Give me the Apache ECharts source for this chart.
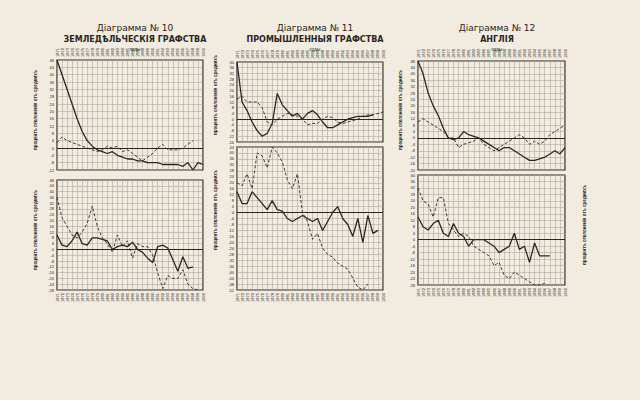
<!DOCTYPE html>
<html><head><meta charset="utf-8">
<script src="https://cdn.jsdelivr.net/npm/echarts@6/dist/echarts.min.js"></script>
<style>body{margin:0;background:#f1ebe0}#c{width:640px;height:400px}</style>
</head><body><div id="c"></div>
<script>
const years = [];
for (let y = 1871; y <= 1900; y++) years.push(String(y));

const titles = ['Діаграмма № 10', 'Діаграмма № 11', 'Діаграмма № 12'];
const subtitles = ['ЗЕМЛЕДѢЛЬЧЕСКІЯ ГРАФСТВА', 'ПРОМЫШЛЕННЫЯ ГРАФСТВА', 'АНГЛІЯ'];

const d10TopSolid = [48,40,32,24,16,9,4,1,-1,-2,-3,-2,-4,-5,-6,-6,-7,-7,-8,-8,-8,-9,-9,-9,-9,-10,-8,-12,-8,-9];
const d10TopDash = [3,6,4,3,2,1,0,-1,-2,-1,1,0,1,-2,-1,-3,-5,-7,-5,-3,0,2,-1,-1,-1,0,2,4,null,null];
const d10BotSolid = [10,3,2,6,12,4,3,8,8,7,6,0,2,3,2,5,0,-2,-6,-9,2,3,1,-7,-15,-5,-13,-12,null,null];
const d10BotDash = [36,22,16,10,8,12,18,30,16,8,4,-2,10,2,6,-6,4,2,2,-4,-16,-27,-18,-20,-20,-14,-24,-27,-28,null];

const d11TopSolid = [40,12,6,-2,-8,-12,-10,-3,18,10,6,2,4,0,4,6,3,-2,-6,-6,-4,-2,0,1,2,2,2,3,null,null];
const d11TopDash = [14,16,12,12,12,8,-2,-4,0,2,4,3,2,0,-4,-3,-3,0,2,1,-2,-3,-2,-1,0,2,3,3,4,5];
const d11BotSolid = [14,6,6,14,10,6,2,8,2,1,-4,-6,-4,-2,-4,-6,-4,-12,-6,0,4,-4,-8,-16,-4,-20,-2,-14,-12,null];
const d11BotDash = [20,18,26,16,40,38,30,44,40,34,22,16,26,0,-6,-18,-14,-24,-28,-30,-34,-36,-38,-44,-50,-52,-48,null,null,null];

const d12TopSolid = [48,40,28,20,14,6,0,-1,0,4,2,1,0,-2,-4,-6,-8,-6,-6,-8,-10,-12,-14,-14,-13,-12,-10,-8,-10,-6];
const d12TopDash = [10,12,10,8,6,4,0,0,-6,-4,-3,-2,0,-4,-6,-8,-6,-4,-2,0,2,0,-4,-2,-4,-2,2,4,6,8];
const d12BotSolid = [14,8,6,10,12,4,2,10,4,2,-4,0,0,0,-2,-4,-8,-6,-4,4,-6,-4,-14,-2,-10,-10,-10,null,null,null];
const d12BotDash = [32,24,22,14,26,26,10,6,2,4,2,-4,-6,-8,-10,-16,-14,-22,-24,-20,-22,-24,-26,-28,-28,-27,null,null,null,null];

const panels = [
  {left:57, right:437, top:60, bottom:230, min:-12, max:48, s:d10TopSolid, d:d10TopDash, pos:'top'},
  {left:57, right:437, top:180, bottom:110, min:-28, max:48, s:d10BotSolid, d:d10BotDash, pos:'bottom'},
  {left:237, right:257, top:62, bottom:258, min:-16, max:40, s:d11TopSolid, d:d11TopDash, pos:'top'},
  {left:237, right:257, top:147, bottom:110, min:-52, max:44, s:d11BotSolid, d:d11BotDash, pos:'bottom'},
  {left:418, right:75, top:61, bottom:230, min:-20, max:48, s:d12TopSolid, d:d12TopDash, pos:'top'},
  {left:418, right:75, top:175, bottom:115, min:-28, max:40, s:d12BotSolid, d:d12BotDash, pos:'bottom'}
];

const ink = '#2a2622';
const grid = [], xAxis = [], yAxis = [], series = [];
panels.forEach((p, i) => {
  grid.push({left:p.left, right:p.right, top:p.top, bottom:p.bottom, show:true,
    borderColor:ink, borderWidth:1.2});
  xAxis.push({type:'category', gridIndex:i, data:years, boundaryGap:false, position:p.pos,
    axisLine:{show:false}, axisTick:{show:false},
    axisLabel:{fontSize:4, rotate:90, color:ink, interval:0, margin:3},
    splitLine:{show:true, lineStyle:{color:'#a39d94', width:0.5}}});
  yAxis.push({type:'value', gridIndex:i, min:p.min, max:p.max, interval:4,
    axisLine:{show:false}, axisTick:{show:false},
    axisLabel:{fontSize:4, color:ink, margin:3},
    splitLine:{show:true, lineStyle:{color:'#a39d94', width:0.5}}});
  const lineBase = {type:'line', xAxisIndex:i, yAxisIndex:i, symbol:'none', silent:true};
  series.push(Object.assign({}, lineBase, {data:p.s, lineStyle:{color:ink, width:1.3},
    markLine:{silent:true, symbol:'none', label:{show:false},
      lineStyle:{color:ink, type:'solid', width:1}, data:[{yAxis:0}]}}));
  series.push(Object.assign({}, lineBase, {data:p.d, lineStyle:{color:ink, width:0.9, type:[3,2]}}));
});

const centers = [130, 310, 492];
const title = [];
centers.forEach((c, i) => {
  title.push({text:titles[i], left:c, top:18, textAlign:'center',
    textStyle:{fontSize:9, fontWeight:'normal', color:ink, fontFamily:'DejaVu Sans'}});
  title.push({text:subtitles[i], left:c, top:30, textAlign:'center',
    textStyle:{fontSize:8, fontWeight:'bold', color:ink, fontFamily:'DejaVu Sans'}});
  title.push({text:'годы', left:c, top:41, textAlign:'center',
    textStyle:{fontSize:5, fontWeight:'normal', color:ink}});
});

const side = [];
[[33,115],[33,235],[213,100],[213,215],[398,115],[582,230]].forEach(([x,y]) => {
  side.push({type:'text', left:x, top:y - 45, rotation:Math.PI/2,
    style:{text:'процентъ отклоненія отъ среднихъ', fontSize:4.5, fontWeight:'bold', fill:ink}});
});

const chart = echarts.init(document.getElementById('c'), null, {renderer:'svg'});
chart.setOption({backgroundColor:'#f1ebe0', animation:false, title, grid, xAxis, yAxis, series, graphic:side});
</script>
</body></html>
